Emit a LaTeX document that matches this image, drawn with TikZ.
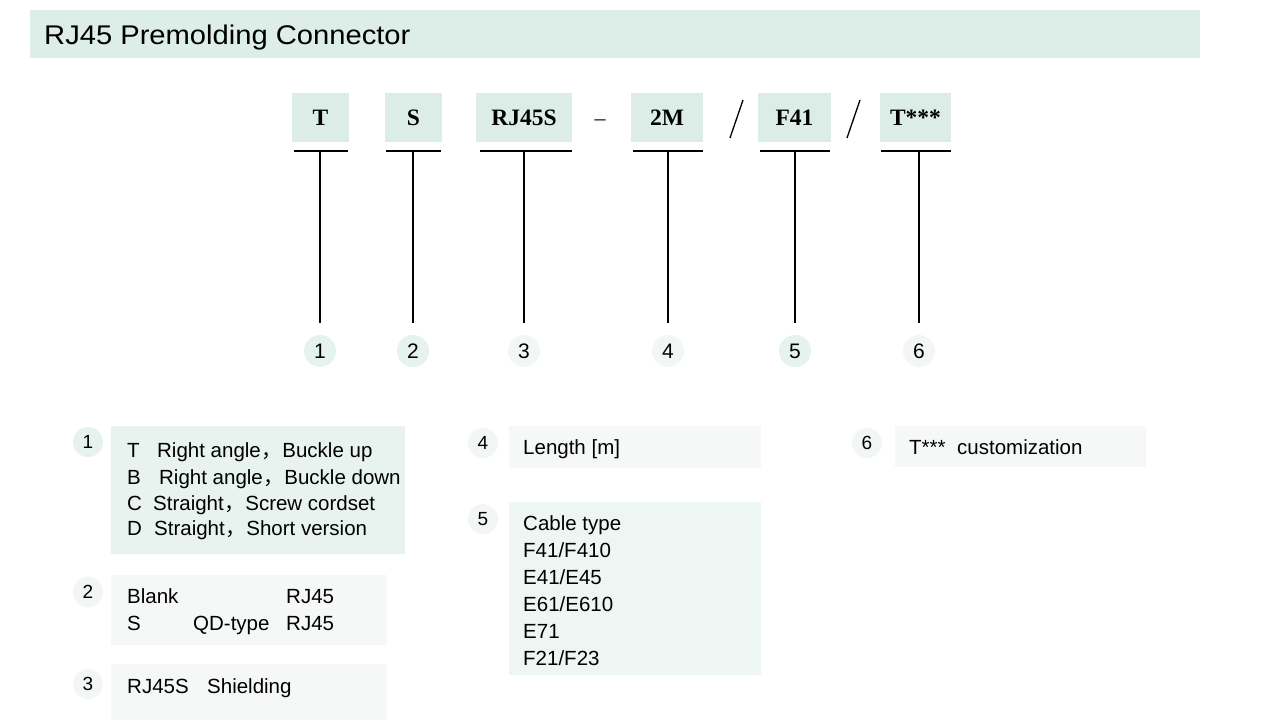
\documentclass[tikz,border=0pt]{standalone}
\usepackage{fontspec}
\setmainfont{Liberation Sans}
\newfontfamily\titlefont[FakeStretch=1.08]{Liberation Sans}
\newfontfamily\codefont{Liberation Serif}
\newfontfamily\cjk{Noto Sans CJK SC}
\definecolor{band}{HTML}{DDEDE8}
\definecolor{codefill}{HTML}{DCEDE7}
\definecolor{mintA}{HTML}{E8F3EF}
\definecolor{mintB}{HTML}{EEF6F3}
\definecolor{paleC}{HTML}{F6F8F7}
\definecolor{circA}{HTML}{E6F2EE}
\definecolor{circB}{HTML}{F2F7F5}
\newcommand{\cm}{\hspace{0.5pt}{\cjk ，}\hspace{0.5pt}}
\begin{document}
\begin{tikzpicture}[x=1pt,y=-1pt,
  codebox/.style={fill=codefill, minimum height=49pt, inner sep=0pt, font=\codefont\bfseries\fontsize{23.5}{26}\selectfont},
  numcirc/.style={circle, minimum size=32pt, inner sep=0pt, font=\fontsize{21}{24}\selectfont},
  smallcirc/.style={circle, minimum size=30pt, inner sep=0pt, font=\fontsize{19}{22}\selectfont},
  infobox/.style={anchor=north west, inner sep=0pt},
  txt/.style={anchor=base west, inner sep=0pt, font=\fontsize{20.5}{24}\selectfont},
  uline/.style={line width=1.4pt},
  vline/.style={line width=1.2pt}]
\useasboundingbox (0,0) rectangle (1283,725);
% title band
\node[infobox, fill=band, minimum width=1170pt, minimum height=48pt] (band) at (30,10) {};
\node[anchor=base west, inner sep=0pt, font=\titlefont\fontsize{27}{30}\selectfont] (title) at (44,45) {RJ45 Premolding Connector};
% code boxes
\node[codebox, minimum width=57pt] (cT) at (320.5,117.5) {T};
\node[codebox, minimum width=57pt] (cS) at (413.5,117.5) {S};
\node[codebox, minimum width=96pt] (cR) at (524,117.5) {RJ45S};
\node[anchor=center, inner sep=0pt, font=\codefont\fontsize{22}{26}\selectfont] (dash) at (600,123) {–};
\node[codebox, minimum width=72pt] (cM) at (667,117.5) {2M};
\node[codebox, minimum width=73pt] (cF) at (794.5,117.5) {F41};
\node[codebox, minimum width=71pt] (cX) at (915.5,117.5) {T***};
\draw[line width=1.3pt] (730,138) -- (743,100);
\draw[line width=1.3pt] (847,138) -- (860,100);
% underlines
\coordinate (uT) at (320,151); \coordinate (uS) at (413,151); \coordinate (uR) at (524,151);
\coordinate (uM) at (668,151); \coordinate (uF) at (795,151); \coordinate (uX) at (919,151);
\draw[uline] (294,151) -- (348,151);
\draw[uline] (386,151) -- (441,151);
\draw[uline] (480,151) -- (572,151);
\draw[uline] (633,151) -- (703,151);
\draw[uline] (760,151) -- (830,151);
\draw[uline] (881,151) -- (951,151);
% number circles
\node[numcirc, fill=circA] (n1) at (320,351) {1};
\node[numcirc, fill=circA] (n2) at (413,351) {2};
\node[numcirc, fill=circB] (n3) at (524,351) {3};
\node[numcirc, fill=circB] (n4) at (668,351) {4};
\node[numcirc, fill=circA] (n5) at (795,351) {5};
\node[numcirc, fill=circB] (n6) at (919,351) {6};
\draw[vline, shorten >=12pt] (uT) -- (n1);
\draw[vline, shorten >=12pt] (uS) -- (n2);
\draw[vline, shorten >=12pt] (uR) -- (n3);
\draw[vline, shorten >=12pt] (uM) -- (n4);
\draw[vline, shorten >=12pt] (uF) -- (n5);
\draw[vline, shorten >=12pt] (uX) -- (n6);
% info boxes
\node[infobox, fill=mintA, minimum width=294pt, minimum height=128pt] (b1) at (111,426) {};
\node[infobox, fill=paleC, minimum width=276pt, minimum height=70pt] (b2) at (111,575) {};
\node[infobox, fill=paleC, minimum width=276pt, minimum height=56pt] (b3) at (111,664) {};
\node[infobox, fill=paleC, minimum width=252pt, minimum height=42pt] (b4) at (509,426) {};
\node[infobox, fill=mintB, minimum width=252pt, minimum height=173pt] (b5) at (509,502) {};
\node[infobox, fill=paleC, minimum width=251pt, minimum height=41pt] (b6) at (895,426) {};
% small circles
\node[smallcirc, fill=circA] (s1) at (88,442) {1};
\node[smallcirc, fill=circB] (s2) at (88,592) {2};
\node[smallcirc, fill=circB] (s3) at (88,684) {3};
\node[smallcirc, fill=circB] (s4) at (483,443) {4};
\node[smallcirc, fill=circB] (s5) at (483,519) {5};
\node[smallcirc, fill=circB] (s6) at (867,443) {6};
% box 1 text
\node[txt] (t1a) at (127,457) {\makebox[30pt][l]{T}Right angle\cm Buckle up};
\node[txt] (t1b) at (127,484) {\makebox[32pt][l]{B}Right angle\cm Buckle down};
\node[txt] (t1c) at (127,510) {\makebox[26pt][l]{C}Straight\cm Screw cordset};
\node[txt] (t1d) at (127,535) {\makebox[27pt][l]{D}Straight\cm Short version};
% box 2 text
\node[txt] (t2a) at (127,603) {Blank};
\node[txt] (t2b) at (286,603) {RJ45};
\node[txt] (t2c) at (127,630) {S};
\node[txt] (t2d) at (193,630) {QD-type};
\node[txt] (t2e) at (286,630) {RJ45};
% box 3 text
\node[txt] (t3a) at (127,693) {RJ45S};
\node[txt] (t3b) at (207,693) {Shielding};
% box 4 text
\node[txt] (t4) at (523,454) {Length [m]};
% box 5 text
\node[txt] (t5a) at (523,530) {Cable type};
\node[txt] (t5b) at (523,557) {F41/F410};
\node[txt] (t5c) at (523,584) {E41/E45};
\node[txt] (t5d) at (523,611) {E61/E610};
\node[txt] (t5e) at (523,638) {E71};
\node[txt] (t5f) at (523,665) {F21/F23};
% box 6 text
\node[txt] (t6a) at (909,454) {T***};
\node[txt] (t6b) at (957,454) {customization};
\end{tikzpicture}
\end{document}
